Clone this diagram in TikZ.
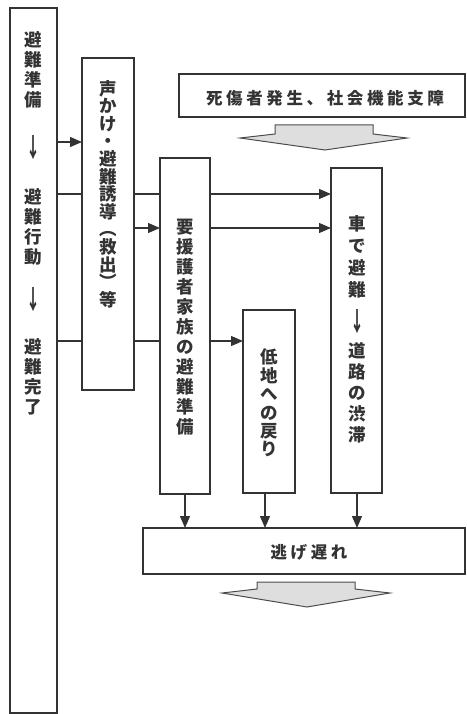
\documentclass[tikz,border=0pt]{standalone}
\usepackage{fontspec}
\newfontfamily\jp{Noto Sans CJK JP}
\newfontfamily\jpls{Noto Sans CJK JP}[LetterSpace=22]
\usetikzlibrary{arrows.meta}
\newcommand{\tallarrow}{\scalebox{0.8}[1.5]{↓}}
\begin{document}
\begin{tikzpicture}[x=1pt,y=-1pt,
  box/.style={draw=black!80,line width=1.2pt,fill=white},
  vt/.style={font=\jp\bfseries\fontsize{17.5}{#1}\selectfont,align=center,inner sep=0pt,text=black!80},
  vt/.default=20,
  ht/.style={font=\jpls\bfseries\fontsize{16.5}{18}\selectfont,inner sep=0pt,text=black!80},
  ln/.style={draw=black!80,line width=1.2pt},
  arr/.style={ln,-{Triangle[length=12pt,width=10pt]}},
  bigarrow/.style={draw=black!70,line width=1pt,fill=black!13}]
\useasboundingbox (0,0) rectangle (466,714);
% boxes
\draw[box] (10,8) rectangle (57,713);
\draw[box] (179,74) rectangle (465,117);
\draw[box] (331,168) rectangle (382,493);
\draw[box] (243,310) rectangle (295,493);
\draw[box] (143,528) rectangle (465,574);
% named anchors
\coordinate (b1a) at (57,142); \coordinate (b2a) at (82,142);
\coordinate (b1b) at (57,194); \coordinate (b4b) at (331,194);
\coordinate (b2c) at (134,228); \coordinate (b3c) at (160,228);
\coordinate (b3c2) at (210,228); \coordinate (b4c) at (331,228);
\coordinate (b1d) at (57,341); \coordinate (b3d) at (210,341); \coordinate (b5d) at (243,341);
\coordinate (b3bot) at (185,494); \coordinate (e1) at (185,528);
\coordinate (b5bot) at (265,493); \coordinate (e2) at (265,528);
\coordinate (b4bot) at (357,493); \coordinate (e3) at (357,528);
% connectors
\draw[arr] (b1a) -- (b2a);
\draw[arr] (b1b) -- (b4b);
\draw[arr] (b2c) -- (b3c);
\draw[arr] (b3c2) -- (b4c);
\draw[ln] (b1d) -- (b3d);
\draw[arr] (b3d) -- (b5d);
\draw[box] (82,58) rectangle (134,390);
\draw[box] (160,158) rectangle (210,494);
\draw[arr] (b3bot) -- (e1);
\draw[arr] (b5bot) -- (e2);
\draw[arr] (b4bot) -- (e3);
% big arrows
\draw[bigarrow] (275,125) -- (373,125) -- (373,134) -- (407,138) -- (325,150) -- (240,138) -- (275,134) -- cycle;
\draw[bigarrow] (257,582) -- (355,582) -- (355,589) -- (390,593) -- (307,607) -- (222,593) -- (257,589) -- cycle;
% texts
\node[vt] (t1a) at (33,70) {避\\難\\準\\備};
\node[vt] (t1b) at (33,148) {\tallarrow};
\node[vt] (t1c) at (33,227) {避\\難\\行\\動};
\node[vt] (t1d) at (33,300) {\tallarrow};
\node[vt] (t1e) at (33,377) {避\\難\\完\\了};
\node[vt=17.6] (t2) at (108,194) {声\\か\\け\\・\\避\\難\\誘\\導\\︵\\救\\出\\︶\\等};
\node[vt] (t3) at (185,327) {要\\援\\護\\者\\家\\族\\の\\避\\難\\準\\備};
\node[vt=18.4] (t4) at (269,403) {低\\地\\へ\\の\\戻\\り};
\node[vt=22] (t5a) at (357,257) {車\\で\\避\\難};
\node[vt] (t5b) at (357,322) {\tallarrow};
\node[vt=21] (t5c) at (357,393) {道\\路\\の\\渋\\滞};
\node[ht] (t6) at (325,98) {死傷者発生、社会機能支障};
\node[ht] (t7) at (309,552) {逃げ遅れ};
\end{tikzpicture}
\end{document}
